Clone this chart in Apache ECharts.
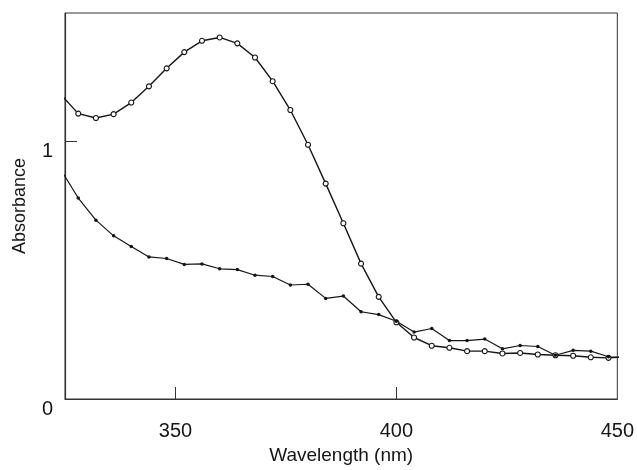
<!DOCTYPE html>
<html>
<head>
<meta charset="utf-8">
<script src="https://cdn.jsdelivr.net/npm/echarts@6/dist/echarts.min.js"></script>
<style>
html,body{margin:0;padding:0;background:#fff;}
#chart{width:637px;height:470px;}
</style>
</head>
<body>
<div id="chart"></div>
<script>
// Wavelength (nm) sampling points
const wavelengths = [324, 328, 332, 336, 340, 344, 348, 352, 356, 360, 364, 368, 372, 376, 380, 384, 388, 392, 396, 400, 404, 408, 412, 416, 420, 424, 428, 432, 436, 440, 444, 448, 452];
// Series with open circle markers
const absorbanceCircles = [1.184, 1.109, 1.092, 1.107, 1.152, 1.215, 1.285, 1.348, 1.392, 1.405, 1.382, 1.327, 1.235, 1.123, 0.988, 0.837, 0.683, 0.526, 0.397, 0.298, 0.239, 0.207, 0.199, 0.186, 0.186, 0.177, 0.179, 0.173, 0.170, 0.168, 0.162, 0.160, 0.164];
// Series with small filled dots
const absorbanceDots = [0.892, 0.781, 0.695, 0.634, 0.593, 0.552, 0.546, 0.523, 0.525, 0.506, 0.503, 0.481, 0.476, 0.443, 0.446, 0.391, 0.400, 0.339, 0.328, 0.302, 0.260, 0.274, 0.227, 0.227, 0.233, 0.195, 0.208, 0.204, 0.170, 0.189, 0.186, 0.164, 0.160];
// Tick labels
const xTickLabels = [350, 400, 450];
const xTickMarks = [350, 400];
const yTickLabels = [0, 1];

const pairs = (xs, ys) => xs.map((x, i) => [x, ys[i]]);
const font = 'Liberation Sans, Arial, Helvetica, sans-serif';
const ink = '#161616';

const chart = echarts.init(document.getElementById('chart'), null, {renderer: 'canvas'});
chart.setOption({
  animation: false,
  backgroundColor: '#ffffff',
  grid: {left: 65, top: 13, right: 14, bottom: 69, show: true, borderColor: '#333', borderWidth: 1, backgroundColor: 'transparent'},
  xAxis: {
    type: 'value', min: 325, max: 450,
    name: 'Wavelength (nm)', nameLocation: 'middle', nameGap: 47,
    nameTextStyle: {fontFamily: font, fontSize: 19, color: ink},
    axisLine: {show: true, lineStyle: {color: '#333', width: 1.2}},
    axisTick: {show: true, inside: true, length: 12, customValues: xTickMarks, lineStyle: {color: '#333', width: 1}},
    axisLabel: {customValues: xTickLabels, margin: 22, fontFamily: font, fontSize: 20, color: ink},
    splitLine: {show: false}
  },
  yAxis: {
    type: 'value', min: 0, max: 1.5,
    name: 'Absorbance', nameLocation: 'middle', nameGap: 36, nameRotate: 90,
    nameTextStyle: {fontFamily: font, fontSize: 18, color: ink},
    axisLine: {show: true, lineStyle: {color: '#333', width: 1.2}},
    axisTick: {show: true, inside: true, length: 12, customValues: yTickLabels, lineStyle: {color: '#333', width: 1}},
    axisLabel: {customValues: yTickLabels, margin: 12, verticalAlign: 'top', fontFamily: font, fontSize: 20, color: ink},
    splitLine: {show: false}
  },
  series: [
    {
      type: 'line', data: pairs(wavelengths, absorbanceCircles), clip: true,
      symbol: 'circle', symbolSize: 5, showAllSymbol: true,
      lineStyle: {color: ink, width: 1.4},
      itemStyle: {color: '#ffffff', borderColor: ink, borderWidth: 1.1}
    },
    {
      type: 'line', data: pairs(wavelengths, absorbanceDots), clip: true,
      symbol: 'circle', symbolSize: 3.5, showAllSymbol: true,
      lineStyle: {color: ink, width: 1.2},
      itemStyle: {color: ink, borderWidth: 0}
    }
  ]
});
</script>
</body>
</html>
